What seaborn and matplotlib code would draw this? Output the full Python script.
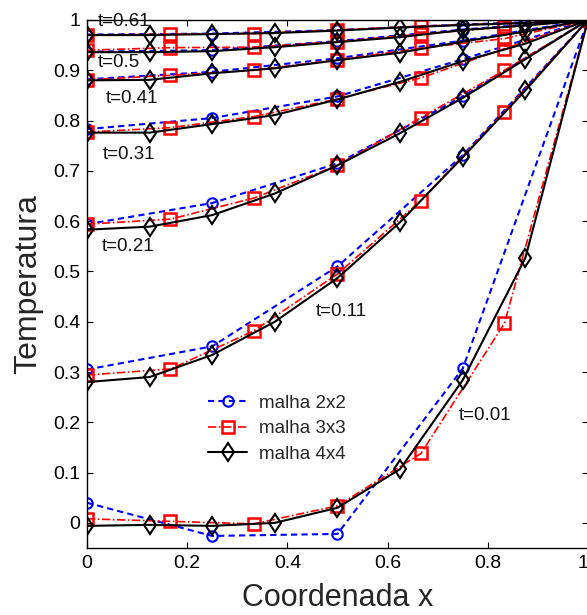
import numpy as np
import pandas as pd
import matplotlib
matplotlib.use("Agg")
import matplotlib.pyplot as plt
from matplotlib.lines import Line2D
import seaborn as sns

# Instantes de tempo de cada perfil
tempos = ["0.01", "0.11", "0.21", "0.31", "0.41", "0.51", "0.61"]

# Malha 2x2: nós e temperatura em cada instante
x_2x2 = [0.0, 0.25, 0.5, 0.75, 1.0]
T_2x2 = [
    [0.040, -0.026, -0.022, 0.307, 1.0],
    [0.305, 0.351, 0.510, 0.731, 1.0],
    [0.594, 0.636, 0.715, 0.848, 1.0],
    [0.783, 0.805, 0.848, 0.922, 1.0],
    [0.882, 0.897, 0.924, 0.959, 1.0],
    [0.937, 0.940, 0.958, 0.981, 1.0],
    [0.971, 0.973, 0.980, 0.991, 1.0],
]

# Malha 3x3
x_3x3 = [0.0, 1 / 6, 1 / 3, 0.5, 2 / 3, 5 / 6, 1.0]
T_3x3 = [
    [0.008, 0.003, -0.002, 0.034, 0.138, 0.397, 1.0],
    [0.294, 0.306, 0.382, 0.495, 0.641, 0.818, 1.0],
    [0.594, 0.604, 0.646, 0.711, 0.806, 0.900, 1.0],
    [0.777, 0.786, 0.808, 0.843, 0.885, 0.943, 1.0],
    [0.881, 0.890, 0.900, 0.921, 0.944, 0.963, 1.0],
    [0.940, 0.945, 0.946, 0.957, 0.972, 0.986, 1.0],
    [0.970, 0.972, 0.973, 0.980, 0.988, 0.993, 1.0],
]

# Malha 4x4
x_4x4 = [0.0, 0.125, 0.25, 0.375, 0.5, 0.625, 0.75, 0.875, 1.0]
T_4x4 = [
    [-0.006, -0.004, -0.006, 0.000, 0.030, 0.107, 0.284, 0.527, 1.0],
    [0.280, 0.290, 0.334, 0.400, 0.487, 0.598, 0.727, 0.860, 1.0],
    [0.583, 0.589, 0.612, 0.655, 0.711, 0.775, 0.845, 0.922, 1.0],
    [0.776, 0.776, 0.793, 0.811, 0.842, 0.877, 0.918, 0.953, 1.0],
    [0.880, 0.881, 0.894, 0.904, 0.920, 0.935, 0.957, 0.977, 1.0],
    [0.936, 0.936, 0.938, 0.946, 0.956, 0.966, 0.980, 0.989, 1.0],
    [0.970, 0.970, 0.972, 0.974, 0.979, 0.985, 0.990, 0.994, 1.0],
]

malhas = ["malha 2x2", "malha 3x3", "malha 4x4"]

# Rótulos dos perfis
rotulos_t = ["t=0.01", "t=0.11", "t=0.21", "t=0.31", "t=0.41", "t=0.5", "t=0.61"]
rotulos_pos = [(0.742, 0.214), (0.456, 0.420), (0.030, 0.550), (0.032, 0.732),
               (0.038, 0.843), (0.022, 0.916), (0.022, 0.997)]

# Tabela longa para o seaborn
linhas = []
for nome, xs, Ts in zip(malhas, [x_2x2, x_3x3, x_4x4], [T_2x2, T_3x3, T_4x4]):
    for t, perfil in zip(tempos, Ts):
        for xv, Tv in zip(xs, perfil):
            linhas.append((nome, t, xv, Tv))
df = pd.DataFrame(linhas, columns=["malha", "t", "x", "T"])

sns.set_style("ticks")
plt.rcParams["font.family"] = ["Liberation Sans", "DejaVu Sans"]

estilos = {
    "malha 2x2": dict(color="#0000ff", marker="o", linestyle=(0, (3.0, 2.0)),
                      markersize=7.5, markeredgewidth=1.5, linewidth=1.5),
    "malha 3x3": dict(color="#ff0000", marker="s", linestyle=(0, (5.0, 1.5, 1.0, 1.5)),
                      markersize=8.5, markeredgewidth=1.8, linewidth=1.2),
    "malha 4x4": dict(color="black", marker="d", linestyle="-",
                      markersize=9.5, markeredgewidth=1.5, linewidth=1.5),
}

fig = plt.figure(figsize=(5.87, 6.15), dpi=100)
ax = fig.add_axes([87 / 587, 1 - 548 / 615, 501 / 587, 528 / 615])

for nome in malhas:
    e = estilos[nome]
    sns.lineplot(data=df[df["malha"] == nome], x="x", y="T", units="t",
                 estimator=None, ax=ax, legend=False,
                 color=e["color"], marker=e["marker"], linestyle=e["linestyle"],
                 markersize=e["markersize"], markeredgewidth=e["markeredgewidth"],
                 markeredgecolor=e["color"], markerfacecolor="none",
                 linewidth=e["linewidth"])

for texto, (xt, yt) in zip(rotulos_t, rotulos_pos):
    ax.text(xt, yt, texto, fontsize=13.5, va="center", ha="left", color="#111111")

ax.set_xlim(0, 1)
ax.set_ylim(-0.05, 1)
ax.set_xticks(np.round(np.arange(0, 1.01, 0.2), 1))
ax.set_xticklabels(["0", "0.2", "0.4", "0.6", "0.8", "1"])
ax.set_yticks(np.round(np.arange(0, 1.01, 0.1), 1))
ax.set_yticklabels(["0", "0.1", "0.2", "0.3", "0.4", "0.5", "0.6", "0.7", "0.8", "0.9", "1"])
ax.tick_params(direction="in", top=True, right=True, length=4, width=0.8,
               labelsize=14, pad=5, colors="black")
# o último rótulo do eixo x fica junto à borda direita da figura
ax.get_xticklabels()[-1].set_horizontalalignment("right")
for s in ax.spines.values():
    s.set_visible(True)
    s.set_color("black")
    s.set_linewidth(1.0)

ax.set_xlabel("Coordenada x", fontsize=22, labelpad=8)
ax.set_ylabel("Temperatura", fontsize=23, labelpad=7)

alcas = [Line2D([], [], color=estilos[n]["color"], marker=estilos[n]["marker"],
                linestyle=estilos[n]["linestyle"], markersize=estilos[n]["markersize"],
                markeredgewidth=estilos[n]["markeredgewidth"], markerfacecolor="none",
                linewidth=estilos[n]["linewidth"]) for n in malhas]
ax.legend(alcas, malhas, loc="center left", bbox_to_anchor=(0.2415, 0.187),
          bbox_transform=ax.transData, frameon=False, fontsize=13.5,
          handlelength=2.1, handletextpad=0.6, labelspacing=0.45,
          borderpad=0, borderaxespad=0)

fig.savefig("out.png", dpi=100, facecolor="white")
